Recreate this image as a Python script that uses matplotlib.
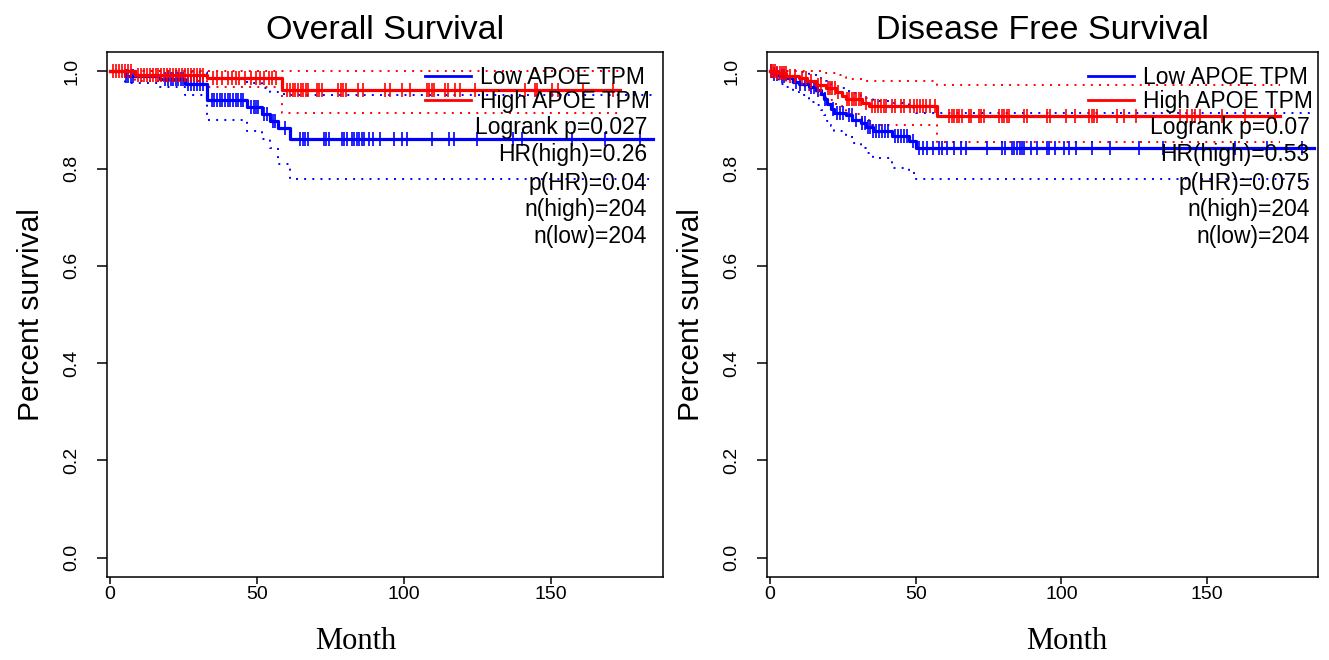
import numpy as np
import matplotlib.pyplot as plt
from matplotlib.lines import Line2D

plt.rcParams['font.family'] = ['Liberation Sans', 'DejaVu Sans']

# ---- Overall survival: step times (months) and survival with 95% CI ----
os_low_t = [0, 5, 17, 25.5, 33, 46.5, 51.6, 54.4, 57, 61.2, 184.5]
os_low_s = [1.0, 0.99, 0.985, 0.975, 0.942, 0.926, 0.912, 0.898, 0.884, 0.860, 0.860]
os_low_lo = [1.0, 0.976, 0.968, 0.952, 0.900, 0.878, 0.860, 0.843, 0.809, 0.778, 0.778]
os_low_hi = [1.0, 1.0, 1.0, 0.998, 0.985, 0.976, 0.966, 0.958, 0.954, 0.951, 0.951]
os_low_cens = [5.5, 6.2, 7, 7.8, 18.7, 19.7, 20.6, 21.5, 22.4, 23.3, 24.2, 25, 26.5, 27.5,
               28.5, 29.5, 30.5, 31.5, 34.7, 35.5, 36.4, 37.3, 38.2, 39.1, 40, 40.9, 41.8,
               42.7, 43.6, 44.5, 45.4, 48, 48.8, 49.6, 50.4, 52.5, 53.5, 55.5, 56, 59.5,
               64.6, 65.5, 66.4, 67.3, 72.6, 73.5, 74.4, 78.8, 79.7, 80.5, 82.2, 83, 83.9,
               84.8, 85.6, 86.4, 87.9, 89.4, 91.8, 96.4, 99.2, 100.9, 109.4, 115.1, 116.8,
               124.8, 137.1, 140.1, 157.1, 168.4, 180.3]

os_high_t = [0, 8.5, 33, 58.5, 173.5]
os_high_s = [1.0, 0.993, 0.986, 0.962, 0.962]
os_high_lo = [1.0, 0.98, 0.967, 0.914, 0.914]
os_high_hi = [1.0, 1.0, 1.0, 1.0, 1.0]
os_high_cens = [1, 2, 3, 4, 5, 6, 7, 9.5, 10.5, 11.5, 12.5, 13.5, 14.5, 15.5, 16.5, 17.5,
                18.5, 19.5, 20.5, 21.5, 22.5, 23.5, 24.5, 25.5, 26.5, 27.5, 28.5, 29.5,
                30.5, 31.5, 35, 36.5, 38, 40, 41.5, 43, 44, 46, 48, 49.5, 51, 52.5, 54, 55,
                56.5, 60.2, 61.2, 62.2, 62.9, 63.9, 64.9, 65.6, 66.7, 67.3, 70.4, 71.1,
                72.1, 77.6, 78.6, 79.3, 80.3, 84.4, 86.1, 93.5, 95.2, 99.3, 102, 107.8,
                108.5, 109.5, 110.2, 113.9, 114.9, 117.3, 119, 124, 141, 144.6, 145.2,
                150.3, 152.4, 160.9, 171]

# ---- Disease free survival ----
dfs_low_t = [0, 0.9, 3.2, 5.5, 7.8, 10, 13.5, 15.8, 17.5, 18.6, 19.7, 20.9, 22, 26, 28.3,
             31.2, 32.9, 35.2, 42, 47.7, 50, 186.6]
dfs_low_s = [1.0, 0.995, 0.99, 0.986, 0.979, 0.975, 0.968, 0.961, 0.954, 0.944, 0.932,
             0.922, 0.915, 0.91, 0.9, 0.894, 0.885, 0.877, 0.867, 0.856, 0.843, 0.843]
dfs_low_lo = [1.0, 0.985, 0.975, 0.968, 0.958, 0.952, 0.938, 0.93, 0.921, 0.91, 0.897,
              0.888, 0.878, 0.868, 0.853, 0.843, 0.832, 0.822, 0.801, 0.79, 0.778, 0.778]
dfs_low_hi = [1.0, 1.0, 1.0, 1.0, 1.0, 0.998, 0.994, 0.99, 0.985, 0.98, 0.975, 0.97, 0.965,
              0.96, 0.955, 0.95, 0.945, 0.94, 0.935, 0.925, 0.914, 0.914]
dfs_low_cens = [0.5, 1.5, 2.3, 4, 5, 9, 10.5, 12, 14, 15, 16.5, 19, 21.5, 23, 24, 25, 27,
                28, 29.5, 31.5, 32.5, 33.5, 34.5, 35.5, 36.5, 37.5, 38.5, 39.5, 40.5, 43,
                44, 45, 46, 47, 49, 51, 52.5, 54, 56, 58, 59.1, 60.9, 63.1, 65.4, 67.1,
                74.6, 79.7, 80.5, 83.1, 83.9, 84.8, 85.7, 86.5, 87.3, 89.4, 91.7, 94.9,
                95.7, 97.9, 100.8, 102.5, 105, 110.5, 116.8, 126.5, 135, 159.6, 170.4, 182.4]

dfs_high_t = [0, 2, 5.5, 10, 12.9, 15.8, 19.2, 22.6, 24.9, 26, 31.7, 34, 57.4, 175]
dfs_high_s = [1.0, 0.997, 0.991, 0.986, 0.98, 0.973, 0.966, 0.957, 0.95, 0.943, 0.936,
              0.929, 0.908, 0.908]
dfs_high_lo = [1.0, 0.99, 0.978, 0.97, 0.962, 0.952, 0.942, 0.93, 0.92, 0.912, 0.9, 0.89,
               0.855, 0.855]
dfs_high_hi = [1.0, 1.0, 1.0, 1.0, 1.0, 1.0, 0.997, 0.993, 0.988, 0.985, 0.981, 0.981,
               0.971, 0.971]
dfs_high_cens = [0.5, 1.2, 1.9, 2.6, 3.3, 4, 4.7, 5.4, 7, 8.5, 11, 12.5, 14, 16.5, 17.5,
                 19.8, 20.6, 21.4, 22.2, 23.5, 26.5, 27.3, 28.1, 28.9, 29.7, 30.5, 31.3, 33,
                 35, 36, 37, 38, 39, 40, 42, 43, 45, 46, 48, 49.5, 50.5, 51.5, 52.5, 53.5,
                 55, 56.5, 61.4, 62.3, 63.2, 64.1, 65, 65.9, 68.2, 69, 71.6, 72.5, 73.4,
                 78.5, 79.5, 80.3, 81.2, 82, 87.2, 88.1, 95.1, 96, 101.7, 104.5, 109.5,
                 110.4, 111.3, 112.1, 119.2, 121.5, 125.5, 140.8, 143, 144.8, 145.9, 147.6,
                 155, 163, 173.3]

legend_labels = ['Low APOE TPM', 'High APOE TPM']
os_stats = ['Logrank p=0.027', 'HR(high)=0.26', 'p(HR)=0.04', 'n(high)=204', 'n(low)=204']
dfs_stats = ['Logrank p=0.07', 'HR(high)=0.53', 'p(HR)=0.075', 'n(high)=204', 'n(low)=204']

LOW_C = '#0000FF'
HIGH_C = '#FF0000'


def draw_km(ax, t, s, lo, hi, cens, color):
    t = np.asarray(t)
    s = np.asarray(s)
    ax.step(t, s, where='post', color=color, lw=2.3, zorder=3)
    for ci in (lo, hi):
        ax.step(t, ci, where='post', color=color, lw=1.4, ls=(0, (1, 3.2)), zorder=2)
    # censored points as vertical ticks on the curve
    idx = np.searchsorted(t, cens, side='right') - 1
    ax.plot(cens, s[idx], ls='none', marker='|', ms=10, mew=1.2, color=color, zorder=3)


def style_axes(ax, title, xlab_x, ylab_x):
    ax.set_xlim(-1, 188)
    ax.set_ylim(-0.04, 1.04)
    ax.set_xticks([0, 50, 100, 150])
    ax.set_yticks([0.0, 0.2, 0.4, 0.6, 0.8, 1.0])
    ax.set_yticklabels(['0.0', '0.2', '0.4', '0.6', '0.8', '1.0'], rotation=90, va='center')
    ax.tick_params(direction='out', width=1.1, labelsize=14, colors='black')
    ax.tick_params(axis='y', length=7, pad=12)
    ax.tick_params(axis='x', length=5, pad=1.5)
    for sp in ax.spines.values():
        sp.set_linewidth(1.1)
        sp.set_color('black')
    ax.set_title(title, fontsize=24.5, pad=9)
    ax.set_ylabel('Percent survival', fontsize=21.5)
    ax.yaxis.set_label_coords(ylab_x, 0.5)
    ax.set_xlabel('Month', fontsize=22, family=['Liberation Serif', 'DejaVu Serif'])
    ax.xaxis.set_label_coords(xlab_x, -0.096)


def add_legend(ax, x0, stats, sx):
    handles = [Line2D([], [], color=LOW_C, lw=2.0), Line2D([], [], color=HIGH_C, lw=2.0)]
    leg = ax.legend(handles, legend_labels, loc='upper left', bbox_to_anchor=(x0, 0.974),
                    frameon=False, fontsize=16.5, handlelength=2.0, handletextpad=0.4,
                    labelspacing=0.08, borderaxespad=0, borderpad=0)
    leg.set_zorder(5)
    ys = [0.857, 0.804, 0.750, 0.699, 0.648]
    for txt, y in zip(stats, ys):
        ax.text(sx, y, txt, ha='right', va='center', fontsize=16.5,
                transform=ax.transAxes, zorder=5)


fig = plt.figure(figsize=(13.29, 6.6), dpi=100)
ax1 = fig.add_axes([0.0805, 0.1258, 0.4184, 0.7955])
ax2 = fig.add_axes([0.5771, 0.1258, 0.4146, 0.7955])

draw_km(ax1, os_low_t, os_low_s, os_low_lo, os_low_hi, os_low_cens, LOW_C)
draw_km(ax1, os_high_t, os_high_s, os_high_lo, os_high_hi, os_high_cens, HIGH_C)
style_axes(ax1, 'Overall Survival', 0.448, -0.112)
add_legend(ax1, 0.572, os_stats, 0.971)

draw_km(ax2, dfs_low_t, dfs_low_s, dfs_low_lo, dfs_low_hi, dfs_low_cens, LOW_C)
draw_km(ax2, dfs_high_t, dfs_high_s, dfs_high_lo, dfs_high_hi, dfs_high_cens, HIGH_C)
style_axes(ax2, 'Disease Free Survival', 0.544, -0.113)
add_legend(ax2, 0.583, dfs_stats, 0.985)

fig.savefig('out.png', dpi=100, facecolor='white')
